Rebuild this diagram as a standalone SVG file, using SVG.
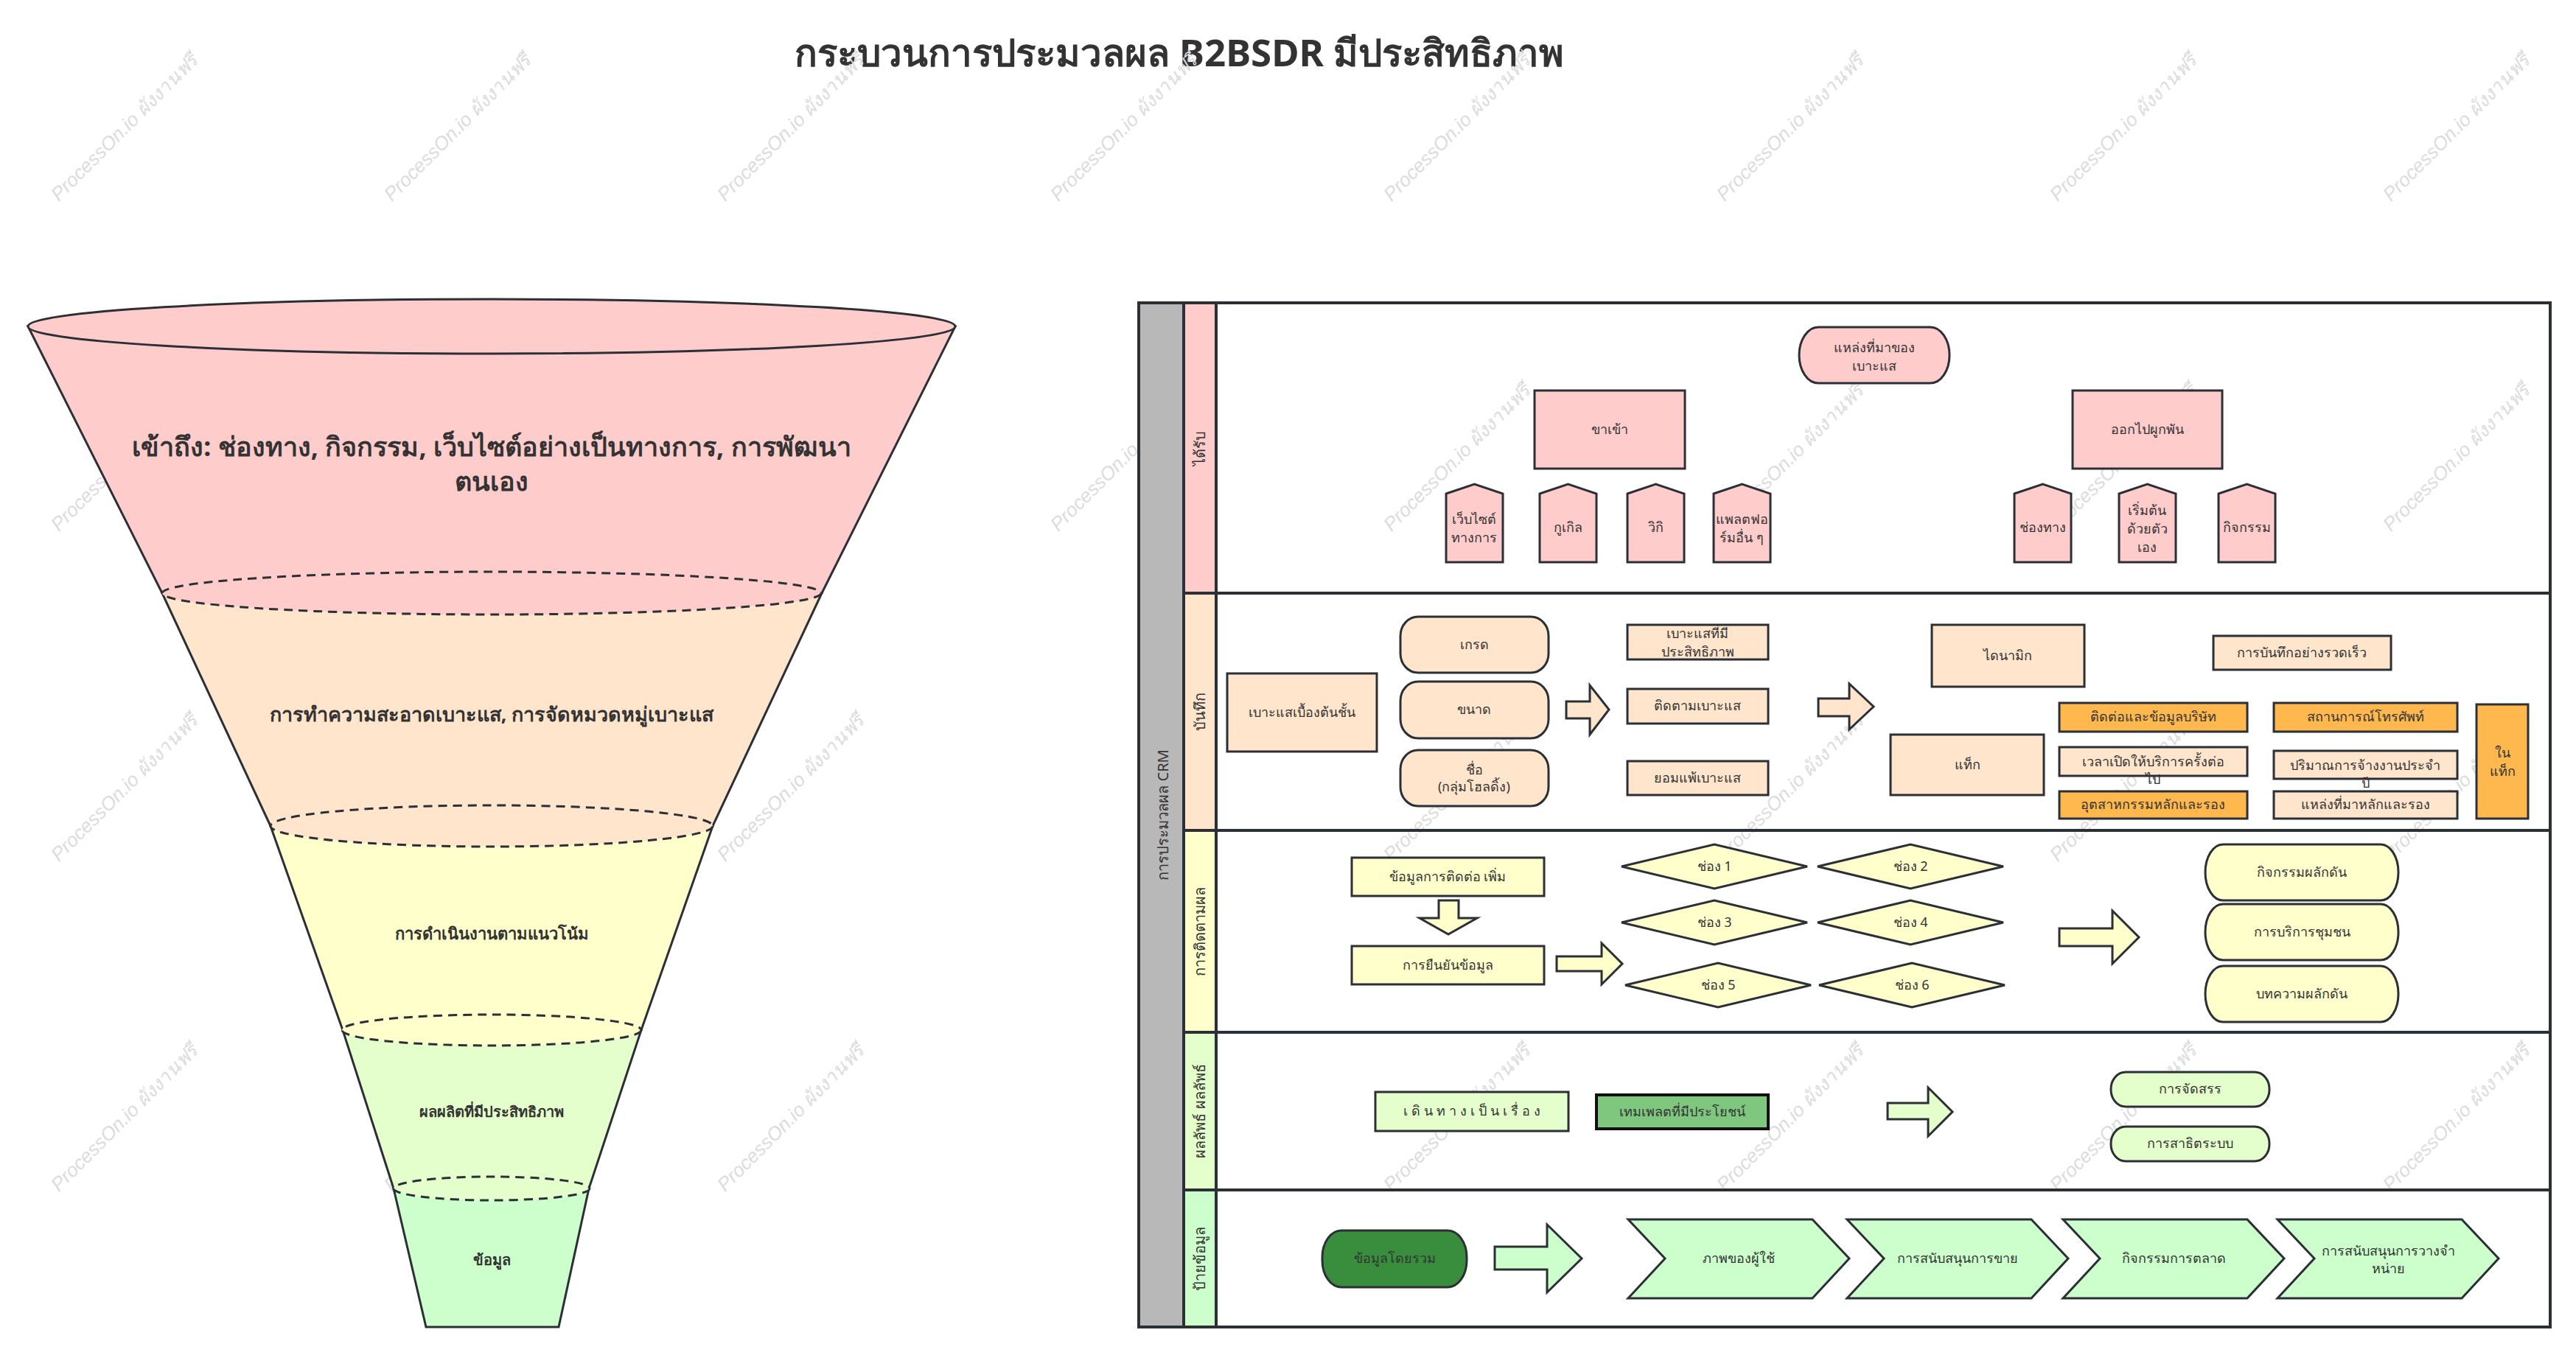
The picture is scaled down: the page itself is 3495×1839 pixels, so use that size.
<svg xmlns="http://www.w3.org/2000/svg" width="3495" height="1839" viewBox="0 0 3495 1839">
<style>
.n{stroke:#2B2F36;stroke-width:3}
.t{font-family:"Noto Sans","DejaVu Sans",sans-serif;font-size:18px;fill:#333;text-anchor:middle}
.h{font-family:"Noto Sans","DejaVu Sans",sans-serif;font-size:20px;fill:#333;text-anchor:middle}
.f{font-family:"Noto Sans","DejaVu Sans",sans-serif;font-weight:bold;fill:#333;text-anchor:middle}
.w{font-family:"Liberation Sans","Noto Sans",sans-serif;font-style:italic;font-size:26px;fill:#dcdcdc;text-anchor:middle}
.ln{stroke:#2B2F36;stroke-width:4;fill:none}
.p1{fill:#FFCCCC}.p2{fill:#FFE5CC}.p3{fill:#FFFFCC}.p4{fill:#E5FFCC}.p5{fill:#CCFFCC}.or{fill:#FFB84D}
</style>
<rect width="3495" height="1839" fill="#fff"/>
<text class="f" x="1600" y="90" font-size="51">กระบวนการประมวลผล B2BSDR มีประสิทธิภาพ</text>

<g id="watermarks">
<text class="w" transform="translate(175,179) rotate(-45)">ProcessOn.io ผังงานฟรี</text>
<text class="w" transform="translate(627,179) rotate(-45)">ProcessOn.io ผังงานฟรี</text>
<text class="w" transform="translate(1079,179) rotate(-45)">ProcessOn.io ผังงานฟรี</text>
<text class="w" transform="translate(1531,179) rotate(-45)">ProcessOn.io ผังงานฟรี</text>
<text class="w" transform="translate(1983,179) rotate(-45)">ProcessOn.io ผังงานฟรี</text>
<text class="w" transform="translate(2435,179) rotate(-45)">ProcessOn.io ผังงานฟรี</text>
<text class="w" transform="translate(2887,179) rotate(-45)">ProcessOn.io ผังงานฟรี</text>
<text class="w" transform="translate(3339,179) rotate(-45)">ProcessOn.io ผังงานฟรี</text>
<text class="w" transform="translate(175,627) rotate(-45)">ProcessOn.io ผังงานฟรี</text>
<text class="w" transform="translate(1531,627) rotate(-45)">ProcessOn.io ผังงานฟรี</text>
<text class="w" transform="translate(1983,627) rotate(-45)">ProcessOn.io ผังงานฟรี</text>
<text class="w" transform="translate(2435,627) rotate(-45)">ProcessOn.io ผังงานฟรี</text>
<text class="w" transform="translate(2887,627) rotate(-45)">ProcessOn.io ผังงานฟรี</text>
<text class="w" transform="translate(3339,627) rotate(-45)">ProcessOn.io ผังงานฟรี</text>
<text class="w" transform="translate(175,1075) rotate(-45)">ProcessOn.io ผังงานฟรี</text>
<text class="w" transform="translate(1079,1075) rotate(-45)">ProcessOn.io ผังงานฟรี</text>
<text class="w" transform="translate(1983,1075) rotate(-45)">ProcessOn.io ผังงานฟรี</text>
<text class="w" transform="translate(2435,1075) rotate(-45)">ProcessOn.io ผังงานฟรี</text>
<text class="w" transform="translate(2887,1075) rotate(-45)">ProcessOn.io ผังงานฟรี</text>
<text class="w" transform="translate(3339,1075) rotate(-45)">ProcessOn.io ผังงานฟรี</text>
<text class="w" transform="translate(175,1523) rotate(-45)">ProcessOn.io ผังงานฟรี</text>
<text class="w" transform="translate(627,1523) rotate(-45)">ProcessOn.io ผังงานฟรี</text>
<text class="w" transform="translate(1079,1523) rotate(-45)">ProcessOn.io ผังงานฟรี</text>
<text class="w" transform="translate(1983,1523) rotate(-45)">ProcessOn.io ผังงานฟรี</text>
<text class="w" transform="translate(2435,1523) rotate(-45)">ProcessOn.io ผังงานฟรี</text>
<text class="w" transform="translate(2887,1523) rotate(-45)">ProcessOn.io ผังงานฟรี</text>
<text class="w" transform="translate(3339,1523) rotate(-45)">ProcessOn.io ผังงานฟรี</text>
</g>

<g id="funnel">
<polygon class="n p1" points="38,443 1296,443 1115,805 220,805"/>
<polygon class="n p2" points="220,805 1115,805 967,1121 367,1121"/>
<polygon class="n p3" points="367,1121 967,1121 870,1398 465,1398"/>
<polygon class="n p4" points="465,1398 870,1398 799,1613 534,1613"/>
<polygon class="n p5" points="534,1613 799,1613 758,1801 578,1801"/>
<ellipse class="n p1" cx="667" cy="443" rx="629" ry="37"/>
<ellipse class="n p1" cx="667" cy="805" rx="447" ry="29" stroke-dasharray="12,8"/>
<ellipse class="n p2" cx="667" cy="1121" rx="300" ry="28" stroke-dasharray="12,8"/>
<ellipse class="n p3" cx="667" cy="1398" rx="203" ry="21" stroke-dasharray="12,8"/>
<ellipse class="n p4" cx="667" cy="1613" rx="133" ry="16" stroke-dasharray="12,8"/>
<text class="f" x="667" y="619" font-size="36">เข้าถึง: ช่องทาง, กิจกรรม, เว็บไซต์อย่างเป็นทางการ, การพัฒนา</text>
<text class="f" x="667" y="666" font-size="36">ตนเอง</text>
<text class="f" x="667" y="979" font-size="27">การทำความสะอาดเบาะแส, การจัดหมวดหมู่เบาะแส</text>
<text class="f" x="667" y="1275" font-size="22">การดำเนินงานตามแนวโน้ม</text>
<text class="f" x="667" y="1516" font-size="20">ผลผลิตที่มีประสิทธิภาพ</text>
<text class="f" x="667" y="1717" font-size="20">ข้อมูล</text>
</g>

<g id="swimlane">
<rect x="1545" y="411" width="61" height="1390" fill="#B8B8B8"/>
<rect class="p1" x="1606" y="411" width="44" height="394"/>
<rect class="p2" x="1606" y="805" width="44" height="322"/>
<rect class="p3" x="1606" y="1127" width="44" height="274"/>
<rect class="p4" x="1606" y="1401" width="44" height="214"/>
<rect class="p5" x="1606" y="1615" width="44" height="186"/>
<rect class="ln" x="1545" y="411" width="1915" height="1390"/>
<line class="ln" x1="1606" y1="411" x2="1606" y2="1801"/>
<line class="ln" x1="1650" y1="411" x2="1650" y2="1801"/>
<line class="ln" x1="1606" y1="805" x2="3460" y2="805"/>
<line class="ln" x1="1606" y1="1127" x2="3460" y2="1127"/>
<line class="ln" x1="1606" y1="1401" x2="3460" y2="1401"/>
<line class="ln" x1="1606" y1="1615" x2="3460" y2="1615"/>
<text class="h" font-size="26" transform="translate(1585,1106) rotate(-90)">การประมวลผล CRM</text>
<text class="h" transform="translate(1635,608) rotate(-90)">ได้รับ</text>
<text class="h" transform="translate(1635,966) rotate(-90)">บันทึก</text>
<text class="h" transform="translate(1635,1264) rotate(-90)">การติดตามผล</text>
<text class="h" transform="translate(1635,1508) rotate(-90)">ผลลัพธ์ ผลลัพธ์</text>
<text class="h" transform="translate(1635,1708) rotate(-90)">ป้ายข้อมูล</text>
</g>

<g id="lane1">
<g id="n-source"><rect class="n p1" x="2441" y="444" width="204" height="76" rx="26" ry="38"/><text class="t" x="2543" y="478">แหล่งที่มาของ</text><text class="t" x="2543" y="503">เบาะแส</text></g>
<g id="n-inbound"><rect class="n p1" x="2082" y="530" width="204" height="106"/><text class="t" x="2184" y="589">ขาเข้า</text></g>
<g id="n-outbound"><rect class="n p1" x="2812" y="530" width="203" height="106"/><text class="t" x="2913" y="589">ออกไปผูกพัน</text></g>
<g id="n-web"><polygon class="n p1" points="1962,670 2000.5,657 2039,670 2039,763 1962,763"/><text class="t" x="2000" y="711">เว็บไซต์</text><text class="t" x="2000" y="736">ทางการ</text></g>
<g id="n-google"><polygon class="n p1" points="2089,670 2127.5,657 2166,670 2166,763 2089,763"/><text class="t" x="2127" y="722">กูเกิล</text></g>
<g id="n-wiki"><polygon class="n p1" points="2208,670 2246.5,657 2285,670 2285,763 2208,763"/><text class="t" x="2246" y="722">วิกิ</text></g>
<g id="n-platform"><polygon class="n p1" points="2325,670 2363.5,657 2402,670 2402,763 2325,763"/><text class="t" x="2363" y="711">แพลตฟอ</text><text class="t" x="2363" y="736">ร์มอื่น ๆ</text></g>
<g id="n-channel"><polygon class="n p1" points="2733,670 2771.5,657 2810,670 2810,763 2733,763"/><text class="t" x="2771" y="722">ช่องทาง</text></g>
<g id="n-self"><polygon class="n p1" points="2875,670 2913.5,657 2952,670 2952,763 2875,763"/><text class="t" x="2913" y="699">เริ่มต้น</text><text class="t" x="2913" y="724">ด้วยตัว</text><text class="t" x="2913" y="749">เอง</text></g>
<g id="n-activity"><polygon class="n p1" points="3010,670 3048.5,657 3087,670 3087,763 3010,763"/><text class="t" x="3048" y="722">กิจกรรม</text></g>
</g>

<g id="lane2">
<g id="n-initial"><rect class="n p2" x="1665" y="914" width="203" height="106"/><text class="t" x="1766" y="973">เบาะแสเบื้องต้นชั้น</text></g>
<g id="n-grade"><rect class="n p2" x="1900" y="837" width="201" height="76" rx="24" ry="26"/><text class="t" x="2000" y="881">เกรด</text></g>
<g id="n-size"><rect class="n p2" x="1900" y="925" width="201" height="77" rx="24" ry="26"/><text class="t" x="2000" y="969">ขนาด</text></g>
<g id="n-name"><rect class="n p2" x="1900" y="1018" width="201" height="76" rx="24" ry="26"/><text class="t" x="2000" y="1051">ชื่อ</text><text class="t" x="2000" y="1074">(กลุ่มโฮลดิ้ง)</text></g>
<g id="n-effective"><rect class="n p2" x="2208" y="848" width="191" height="47"/><text class="t" x="2303" y="866">เบาะแสที่มี</text><text class="t" x="2303" y="891">ประสิทธิภาพ</text></g>
<g id="n-follow"><rect class="n p2" x="2208" y="935" width="191" height="47"/><text class="t" x="2303" y="964">ติดตามเบาะแส</text></g>
<g id="n-giveup"><rect class="n p2" x="2208" y="1033" width="191" height="46"/><text class="t" x="2303" y="1062">ยอมแพ้เบาะแส</text></g>
<g id="n-dynamic"><rect class="n p2" x="2621" y="848" width="207" height="84"/><text class="t" x="2724" y="896">ไดนามิก</text></g>
<g id="n-tag"><rect class="n p2" x="2565" y="997" width="208" height="82"/><text class="t" x="2669" y="1044">แท็ก</text></g>
<g id="n-quick"><rect class="n p2" x="3003" y="863" width="241" height="46"/><text class="t" x="3123" y="892">การบันทึกอย่างรวดเร็ว</text></g>
<g id="n-contact"><rect class="n or" x="2794" y="954" width="255" height="39"/><text class="t" x="2921" y="979">ติดต่อและข้อมูลบริษัท</text></g>
<g id="n-next"><rect class="n p2" x="2794" y="1014" width="255" height="39"/><text class="t" x="2921" y="1040">เวลาเปิดให้บริการครั้งต่อ</text><text class="t" x="2921" y="1064">ไป</text></g>
<g id="n-industry"><rect class="n or" x="2794" y="1074" width="255" height="37"/><text class="t" x="2921" y="1098">อุตสาหกรรมหลักและรอง</text></g>
<g id="n-phone"><rect class="n or" x="3085" y="954" width="249" height="39"/><text class="t" x="3209" y="979">สถานการณ์โทรศัพท์</text></g>
<g id="n-employ"><rect class="n p2" x="3085" y="1019" width="249" height="38"/><text class="t" x="3209" y="1045">ปริมาณการจ้างงานประจำ</text><text class="t" x="3209" y="1069">ปี</text></g>
<g id="n-mainsrc"><rect class="n p2" x="3085" y="1074" width="249" height="37"/><text class="t" x="3209" y="1098">แหล่งที่มาหลักและรอง</text></g>
<g id="n-intag"><rect class="n or" x="3360" y="956" width="70" height="155"/><text class="t" x="3395" y="1028">ใน</text><text class="t" x="3395" y="1053">แท็ก</text></g>
</g>

<g id="lane3">
<g id="n-more"><rect class="n p3" x="1834" y="1164" width="261" height="52"/><text class="t" x="1964" y="1196">ข้อมูลการติดต่อ เพิ่ม</text></g>
<g id="n-confirm"><rect class="n p3" x="1834" y="1284" width="261" height="52"/><text class="t" x="1964" y="1316">การยืนยันข้อมูล</text></g>
<g id="n-c1"><polygon class="n p3" points="2200,1176 2326,1146 2452,1176 2326,1206"/><text class="t" x="2326" y="1182">ช่อง 1</text></g>
<g id="n-c2"><polygon class="n p3" points="2466,1176 2592,1146 2718,1176 2592,1206"/><text class="t" x="2592" y="1182">ช่อง 2</text></g>
<g id="n-c3"><polygon class="n p3" points="2200,1252 2326,1222 2452,1252 2326,1282"/><text class="t" x="2326" y="1258">ช่อง 3</text></g>
<g id="n-c4"><polygon class="n p3" points="2466,1252 2592,1222 2718,1252 2592,1282"/><text class="t" x="2592" y="1258">ช่อง 4</text></g>
<g id="n-c5"><polygon class="n p3" points="2205,1337 2331,1307 2457,1337 2331,1367"/><text class="t" x="2331" y="1343">ช่อง 5</text></g>
<g id="n-c6"><polygon class="n p3" points="2468,1337 2594,1307 2720,1337 2594,1367"/><text class="t" x="2594" y="1343">ช่อง 6</text></g>
<g id="n-push"><rect class="n p3" x="2992" y="1146" width="262" height="76" rx="24" ry="38"/><text class="t" x="3123" y="1190">กิจกรรมผลักดัน</text></g>
<g id="n-community"><rect class="n p3" x="2992" y="1227" width="262" height="76" rx="24" ry="38"/><text class="t" x="3123" y="1271">การบริการชุมชน</text></g>
<g id="n-article"><rect class="n p3" x="2992" y="1311" width="262" height="76" rx="24" ry="38"/><text class="t" x="3123" y="1355">บทความผลักดัน</text></g>
</g>

<g id="lane4">
<g id="n-story"><rect class="n p4" x="1866" y="1482" width="262" height="53"/><text class="t" x="1999" y="1514" letter-spacing="5">เดินทางเป็นเรื่อง</text></g>
<g id="n-template"><rect x="2166" y="1486" width="233" height="46" fill="#7FC77F" stroke="#111" stroke-width="4"/><text class="t" x="2282" y="1515">เทมเพลตที่มีประโยชน์</text></g>
<g id="n-alloc"><rect class="n p4" x="2864" y="1455" width="215" height="47" rx="20" ry="23"/><text class="t" x="2971" y="1484">การจัดสรร</text></g>
<g id="n-demo"><rect class="n p4" x="2864" y="1529" width="215" height="47" rx="20" ry="23"/><text class="t" x="2971" y="1558">การสาธิตระบบ</text></g>
</g>

<g id="lane5">
<g id="n-overall"><rect class="n" x="1794" y="1670" width="196" height="77" rx="26" ry="36" fill="#388E3C"/><text class="t" x="1892" y="1714">ข้อมูลโดยรวม</text></g>
<g id="n-persona"><polygon class="n p5" points="2209,1655 2459,1655 2509,1708 2459,1762 2209,1762 2259,1708"/><text class="t" x="2359" y="1714">ภาพของผู้ใช้</text></g>
<g id="n-sales"><polygon class="n p5" points="2506,1655 2756,1655 2806,1708 2756,1762 2506,1762 2556,1708"/><text class="t" x="2656" y="1714">การสนับสนุนการขาย</text></g>
<g id="n-marketing"><polygon class="n p5" points="2799,1655 3049,1655 3099,1708 3049,1762 2799,1762 2849,1708"/><text class="t" x="2949" y="1714">กิจกรรมการตลาด</text></g>
<g id="n-launch"><polygon class="n p5" points="3090,1655 3340,1655 3390,1708 3340,1762 3090,1762 3140,1708"/><text class="t" x="3240" y="1704">การสนับสนุนการวางจำ</text><text class="t" x="3240" y="1728">หน่าย</text></g>
</g>

<g id="connectors">
<polygon class="n p2" points="2125,952 2157,952 2157,930 2183,963 2157,997 2157,975 2125,975"/>
<polygon class="n p2" points="2467,948 2509,948 2509,928 2542,959 2509,990 2509,972 2467,972"/>
<polygon class="n p3" points="1952,1222 1979,1222 1979,1246 2004,1246 1965,1268 1926,1246 1952,1246"/>
<polygon class="n p3" points="2112,1298 2173,1298 2173,1280 2201,1308 2173,1336 2173,1318 2112,1318"/>
<polygon class="n p3" points="2794,1260 2866,1260 2866,1236 2902,1272 2866,1308 2866,1284 2794,1284"/>
<polygon class="n p4" points="2561,1497 2616,1497 2616,1476 2649,1509 2616,1542 2616,1519 2561,1519"/>
<polygon class="n p5" points="2028,1692 2099,1692 2099,1662 2146,1708 2099,1754 2099,1723 2028,1723"/>
</g>
</svg>
